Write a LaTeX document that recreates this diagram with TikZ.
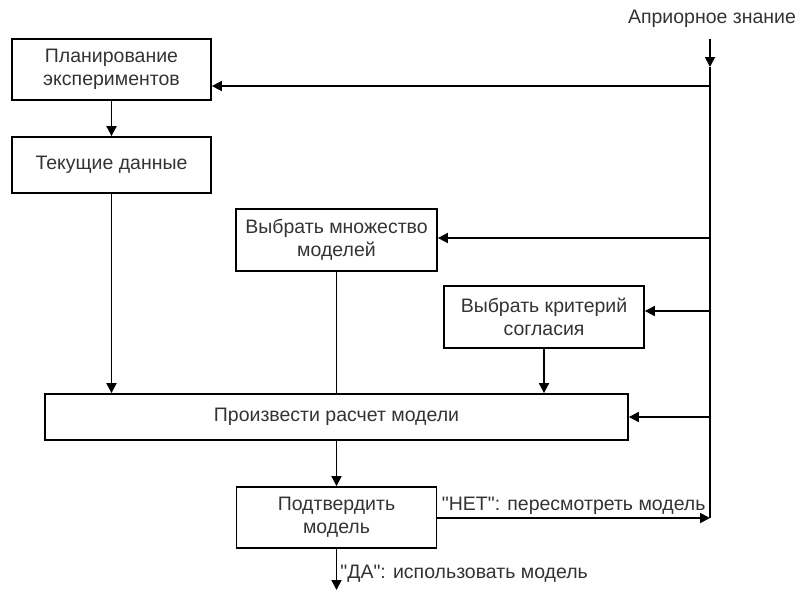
\documentclass[tikz,border=0pt]{standalone}
\usepackage{fontspec}
\setmainfont{Liberation Sans}[Ligatures=TeXOff]
\usetikzlibrary{arrows.meta}
\begin{document}
\begin{tikzpicture}[x=1pt,y=-1pt,
  every node/.style={font=\fontsize{19.5}{23}\selectfont, text=black!80},
  box/.style={draw=black, line width=1.8pt, rectangle, align=center, inner sep=0pt},
  conn/.style={draw=black, line width=1.8pt},
  arr/.style={conn, -{Triangle[length=10pt,width=10pt]}}]
\useasboundingbox (0,0) rectangle (800,592);
\node[box, minimum width=199pt, minimum height=61pt] (b1) at (111.5,69.5) {Планирование\\экспериментов};
\node[box, minimum width=199pt, minimum height=56pt] (b2) at (111.5,165) {Текущие данные};
\node[box, minimum width=201pt, minimum height=62pt] (b3) at (336.5,240) {Выбрать множество\\моделей};
\node[box, minimum width=200pt, minimum height=62pt] (b4) at (544,317) {Выбрать критерий\\согласия};
\node[box, minimum width=583pt, minimum height=46pt] (big) at (336.5,417) {Произвести расчет модели};
\node[box, minimum width=200pt, minimum height=61pt] (b5) at (336.5,517.5) {Подтвердить\\модель};
\node (apr) at (712,19) {Априорное знание};
\coordinate (top) at (710,39);
\coordinate (t0) at (710,67);
\coordinate (j1) at (710,86);
\coordinate (j2) at (710,238);
\coordinate (j3) at (710,311);
\coordinate (j4) at (710,417);
\coordinate (no) at (710,518);
\coordinate (yes) at (336.5,590);
\draw[arr] (top) -- (t0);
\draw[conn] (t0) -- (no);
\draw[arr] (j1) -- (j1 -| b1.east);
\draw[arr] (j2) -- (j2 -| b3.east);
\draw[arr] (j3) -- (j3 -| b4.east);
\draw[arr] (j4) -- (j4 -| big.east);
\draw[arr] (b1) -- (b2);
\draw[arr] (b2) -- (b2.south |- big.north);
\draw[conn] (b3) -- (b3.south |- big.north);
\draw[arr] (b4) -- (b4.south |- big.north);
\draw[arr] (big) -- (b5);
\draw[arr] (b5.east |- no) -- node[above, inner sep=3pt] {"НЕТ": пересмотреть модель} (no);
\draw[arr] (b5) -- node[right, pos=0.6, inner sep=3pt] {"ДА": использовать модель} (yes);
\end{tikzpicture}
\end{document}
